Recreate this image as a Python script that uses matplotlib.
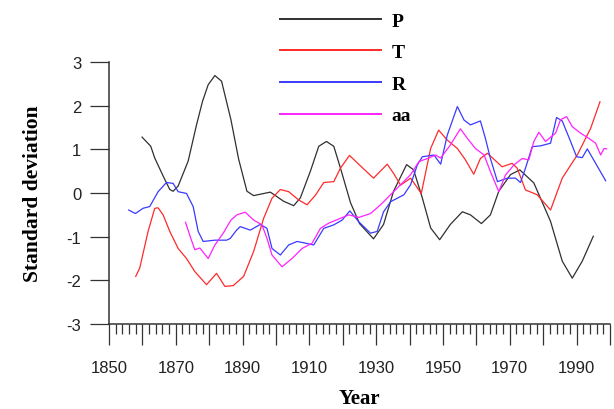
import matplotlib
matplotlib.use('Agg')
import matplotlib.pyplot as plt
from matplotlib.ticker import MultipleLocator, FuncFormatter

plt.rcParams['axes.unicode_minus'] = False

# P series
p_year = [1859.9, 1862.5, 1863.7, 1866.2, 1868.2, 1869.2, 1870.7, 1873.7, 1876.2, 1878.0,
          1879.7, 1881.7, 1883.7, 1886.5, 1888.8, 1891.3, 1893.3, 1898.3, 1902.3, 1905.3,
          1907.3, 1910.3, 1912.8, 1915.1, 1917.3, 1919.3, 1922.3, 1925.0, 1929.2, 1932.2,
          1935.2, 1939.1, 1941.2, 1943.8, 1946.3, 1949.0, 1952.2, 1955.8, 1958.2, 1961.5,
          1964.2, 1966.7, 1970.2, 1973.0, 1977.2, 1982.2, 1985.7, 1988.7, 1991.7, 1995.0]
p_val = [1.28, 1.07, 0.80, 0.39, 0.08, 0.04, 0.16, 0.73, 1.56, 2.10,
         2.48, 2.69, 2.56, 1.68, 0.78, 0.04, -0.06, 0.02, -0.19, -0.29,
         -0.11, 0.50, 1.07, 1.18, 1.07, 0.57, -0.22, -0.70, -1.05, -0.72,
         0.04, 0.65, 0.53, -0.11, -0.80, -1.07, -0.72, -0.43, -0.50, -0.70,
         -0.50, 0.04, 0.42, 0.53, 0.23, -0.65, -1.56, -1.95, -1.56, -0.99]

# T series
t_year = [1858.0, 1859.2, 1861.7, 1863.7, 1864.7, 1866.2, 1868.2, 1870.7, 1873.2, 1875.7,
          1879.2, 1882.2, 1884.7, 1887.2, 1890.3, 1893.3, 1896.3, 1898.8, 1901.3, 1903.8,
          1906.8, 1909.3, 1911.8, 1914.3, 1917.3, 1919.3, 1922.0, 1925.3, 1929.2, 1933.3,
          1935.2, 1937.3, 1940.3, 1943.5, 1946.3, 1948.7, 1951.3, 1954.3, 1956.7, 1959.2,
          1961.2, 1963.3, 1967.7, 1970.7, 1972.2, 1974.7, 1978.2, 1982.2, 1985.7, 1990.2,
          1994.2, 1997.0]
t_val = [-1.91, -1.72, -0.88, -0.35, -0.34, -0.50, -0.88, -1.27, -1.50, -1.80,
         -2.10, -1.84, -2.14, -2.12, -1.91, -1.34, -0.58, -0.12, 0.08, 0.03,
         -0.16, -0.27, -0.05, 0.24, 0.26, 0.57, 0.86, 0.62, 0.34, 0.66,
         0.45, 0.18, 0.34, -0.01, 1.02, 1.44, 1.21, 1.02, 0.76, 0.43,
         0.79, 0.91, 0.60, 0.68, 0.57, 0.07, -0.04, -0.39, 0.34, 0.87,
         1.48, 2.09]

# R series
r_year = [1855.9, 1857.9, 1860.2, 1862.2, 1864.7, 1867.2, 1869.2, 1870.7, 1873.2, 1875.2,
          1876.7, 1878.2, 1881.7, 1885.2, 1886.3, 1888.2, 1889.3, 1892.3, 1895.3, 1897.3,
          1898.8, 1901.3, 1903.8, 1906.3, 1908.3, 1911.3, 1914.3, 1917.3, 1919.8, 1922.1,
          1924.8, 1928.3, 1930.3, 1932.2, 1934.3, 1938.3, 1940.3, 1942.3, 1943.8, 1947.3,
          1949.3, 1951.3, 1954.3, 1956.3, 1958.2, 1961.2, 1962.7, 1964.2, 1966.3, 1969.3,
          1971.7, 1973.2, 1974.7, 1976.7, 1979.2, 1982.2, 1984.0, 1985.7, 1988.2, 1990.0,
          1991.7, 1993.2, 1995.7, 1998.7]
r_val = [-0.39, -0.47, -0.35, -0.31, 0.03, 0.24, 0.22, 0.03, -0.01, -0.31,
         -0.88, -1.11, -1.08, -1.08, -1.04, -0.85, -0.77, -0.85, -0.72, -0.81,
         -1.27, -1.42, -1.19, -1.11, -1.14, -1.19, -0.81, -0.73, -0.62, -0.41,
         -0.66, -0.92, -0.88, -0.43, -0.20, -0.04, 0.19, 0.64, 0.83, 0.87,
         0.66, 1.33, 1.98, 1.67, 1.56, 1.65, 1.25, 0.79, 0.26, 0.34,
         0.34, 0.24, 0.57, 1.06, 1.08, 1.14, 1.73, 1.65, 1.18, 0.83,
         0.81, 1.01, 0.68, 0.28]

# aa series
aa_year = [1872.9, 1874.5, 1875.7, 1877.2, 1879.7, 1881.7, 1884.2, 1886.5, 1888.3, 1890.8,
           1893.3, 1895.8, 1897.3, 1898.8, 1901.8, 1904.8, 1907.8, 1910.8, 1913.3, 1915.8,
           1919.3, 1921.8, 1924.8, 1928.3, 1931.3, 1934.3, 1937.3, 1940.3, 1942.8, 1945.7,
           1947.8, 1949.3, 1952.2, 1955.2, 1957.3, 1959.7, 1962.3, 1964.2, 1966.7, 1968.7,
           1971.2, 1973.7, 1975.7, 1977.2, 1978.7, 1980.7, 1983.7, 1985.2, 1987.0, 1988.7,
           1991.2, 1993.7, 1995.7, 1997.2, 1998.2, 1999.0]
aa_val = [-0.67, -1.04, -1.30, -1.26, -1.50, -1.19, -0.92, -0.62, -0.50, -0.44,
          -0.62, -0.73, -1.04, -1.42, -1.69, -1.50, -1.27, -1.15, -0.81, -0.69,
          -0.58, -0.50, -0.56, -0.47, -0.27, -0.04, 0.19, 0.42, 0.72, 0.80,
          0.87, 0.80, 1.10, 1.47, 1.25, 1.02, 0.87, 0.49, 0.03, 0.41,
          0.64, 0.79, 0.76, 1.18, 1.39, 1.18, 1.37, 1.68, 1.75, 1.52,
          1.37, 1.25, 1.14, 0.87, 1.02, 1.01]

fig = plt.figure(figsize=(6.14, 4.10), dpi=100)
ax = fig.add_axes([109/614, 85/410, 501/614, 262/410])

ax.plot(p_year, p_val, color='#303030', lw=0.9, label='P')
ax.plot(t_year, t_val, color='#ff2a2a', lw=0.9, label='T')
ax.plot(r_year, r_val, color='#3a3aff', lw=0.9, label='R')
ax.plot(aa_year, aa_val, color='#ff22ff', lw=0.9, label='aa')

ax.set_xlim(1850, 2000)
ax.set_ylim(-3, 3)

for s in ['top', 'right']:
    ax.spines[s].set_visible(False)
for s in ['left', 'bottom']:
    ax.spines[s].set_linewidth(1.1)
    ax.spines[s].set_color('#333333')

ax.xaxis.set_major_locator(MultipleLocator(10))
ax.xaxis.set_minor_locator(MultipleLocator(2))
ax.xaxis.set_major_formatter(FuncFormatter(lambda v, pos: '%d' % v if int(round(v - 1850)) % 20 == 0 else ''))
ax.yaxis.set_major_locator(MultipleLocator(1))

ax.tick_params(axis='x', which='major', length=15, width=0.9, color='#333333', pad=11,
               labelsize=12)
ax.tick_params(axis='x', which='minor', length=7.5, width=0.9, color='#333333')
ax.tick_params(axis='y', which='major', length=14, width=0.9, color='#333333', pad=6,
               labelsize=12)
for lab in ax.get_xticklabels() + ax.get_yticklabels():
    lab.set_family('Liberation Sans')
    lab.set_color('#222222')

ax.set_xlabel('Year', family='Liberation Serif', fontweight='bold', fontsize=15, labelpad=9)
ax.set_ylabel('Standard deviation', family='Liberation Serif', fontweight='bold', fontsize=15.5,
              labelpad=17)

leg = ax.legend(loc='upper left', bbox_to_anchor=(280/614, 1 - 13/410), bbox_transform=fig.transFigure,
                frameon=False, borderpad=0, borderaxespad=0, handlelength=5.2,
                handletextpad=0.55, labelspacing=0.72,
                prop={'family': 'Liberation Serif', 'weight': 'bold', 'size': 14})
for line in leg.get_lines():
    line.set_linewidth(1.4)

fig.savefig('out.png', dpi=100)
